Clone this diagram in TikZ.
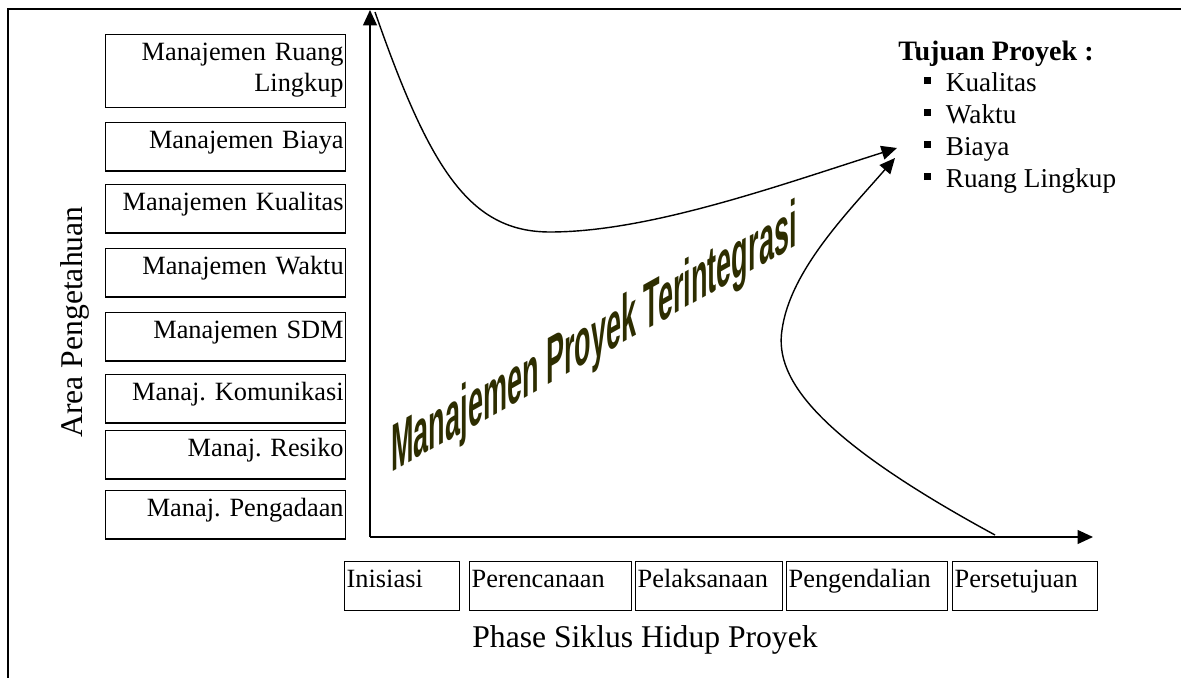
\documentclass[tikz,border=0pt]{standalone}
\usepackage{fontspec}
\setmainfont{Liberation Serif}
\newfontfamily\wordartfont{Liberation Sans}
\usetikzlibrary{arrows.meta, positioning}
\definecolor{zaitun}{RGB}{45,45,0}
\newcommand{\kotakkecil}{\rule[4.5pt]{4pt}{4pt}\hspace{8.3pt}}
\frenchspacing

\tikzset{
    garis/.style={line width=0.8pt},
    kotak/.style={draw, garis, inner ysep=0pt, inner xsep=0.04cm,
        text height=0.52cm, text depth=0.45cm,
        font=\fontsize{15}{17.5}\selectfont},
    area/.style={kotak, anchor=north west, text width=4.72cm, align=right},
    fase/.style={kotak, anchor=north west, align=left, text depth=0.46cm},
    tujuanitem/.style={anchor=base west, inner sep=0pt, font=\fontsize{15.5}{18}\selectfont},
    panah/.style={garis, -{Triangle[length=0.31cm, width=0.28cm]}},
}

\begin{document}
\begin{tikzpicture}[x=0.02cm, y=-0.02cm]
        \useasboundingbox (0,0) rectangle (1181,678);
        % Draw frame
        \draw[garis] (8,700) -- (8,9) -- (1200,9);
        % Knowledge areas
        \node[area, text depth=0.94cm] (ruang) at (105,34) {Manajemen Ruang\\ Lingkup};
        \node[area] (biaya) at (105,122) {Manajemen Biaya};
        \node[area] (kualitas) at (105,184) {Manajemen Kualitas};
        \node[area] (waktu) at (105,248) {Manajemen Waktu};
        \node[area] (sdm) at (105,312) {Manajemen SDM};
        \node[area] (komunikasi) at (105,374) {Manaj. Komunikasi};
        \node[area] (resiko) at (105,430) {Manaj. Resiko};
        \node[area] (pengadaan) at (105,490) {Manaj. Pengadaan};
        \node[rotate=90, font=\fontsize{18}{20}\selectfont] (areapeng) at (75,322) {Area Pengetahuan};
        % Life cycle phases
        \node[fase, text width=2.22cm] (inisiasi) at (344,561) {Inisiasi};
        \node[fase, text width=3.16cm] (perencanaan) at (469,561) {Perencanaan};
        \node[fase, text width=2.86cm] (pelaksanaan) at (635,561) {Pelaksanaan};
        \node[fase, text width=3.14cm] (pengendalian) at (786,561) {Pengendalian};
        \node[fase, text width=2.82cm] (persetujuan) at (952,561) {Persetujuan};
        \node[anchor=base, font=\fontsize{18}{20}\selectfont] (siklus) at (645,648) {Phase Siklus Hidup Proyek};
        % Draw axes
        \coordinate (O) at (370,537);
        \coordinate (ytop) at (370,10);
        \coordinate (xend) at (1093,537);
        \draw[panah] (O) -- (ytop);
        \draw[panah] (O) -- (xend);
        % Project goals
        \node[tujuanitem, font=\fontsize{16}{18}\selectfont\bfseries] (tujuan) at (898,61) {Tujuan Proyek :};
        \node[tujuanitem] (tkualitas) at (924,92) {\kotakkecil Kualitas};
        \node[tujuanitem] (twaktu) at (924,124) {\kotakkecil Waktu};
        \node[tujuanitem] (tbiaya) at (924,156) {\kotakkecil Biaya};
        \node[tujuanitem] (truang) at (924,188) {\kotakkecil Ruang Lingkup};
        % Draw curves to the goals
        \coordinate (awal1) at (375,12);
        \coordinate (bawah1) at (550,232);
        \coordinate (akhir1) at (897,148);
        \coordinate (awal2) at (995,535);
        \coordinate (kiri2) at (782,330);
        \coordinate (akhir2) at (895,158);
        \draw[panah] (awal1) .. controls (430,170) and (470,232) .. (bawah1)
            .. controls (650,232) and (780,185) .. (akhir1);
        \draw[panah] (awal2) .. controls (820,440) and (774,380) .. (kiri2)
            .. controls (790,270) and (850,210) .. (akhir2);
        % Word art
        \node[yslant=0.56, xscale=0.405, transform shape, inner sep=0pt,
            font=\wordartfont\bfseries\fontsize{38}{38}\selectfont, text=zaitun]
            (integrasi) at (594,342) {Manajemen Proyek Terintegrasi};
    \end{tikzpicture}
\end{document}
